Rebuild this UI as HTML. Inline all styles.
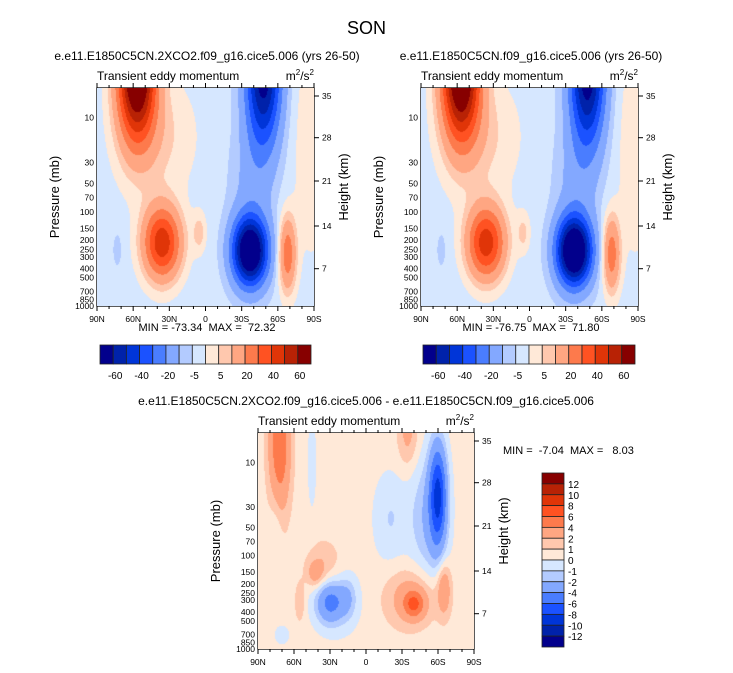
<!DOCTYPE html>
<html><head><meta charset="utf-8"><style>
body{margin:0;background:#fff;width:733px;height:673px;position:relative;overflow:hidden;font-family:"Liberation Sans",sans-serif;color:#000}
.t{position:absolute;white-space:nowrap}
canvas{position:absolute}
svg{position:absolute;left:0;top:0}
svg text{white-space:pre}
</style></head><body>
<div class="t" style="left:0;width:733px;text-align:center;top:18px;font-size:18px">SON</div>
<svg id="ov" width="733" height="673"></svg>
<script>
// Panel 1 field blobs (lat, log10 p, amplitude, lat sigma, logp sigma)
const p1Lat=[57,40,36,5,-37,-48,-38,-68,-88,73];
const p1LogP=[0.5,1.2,2.33,2.22,2.42,0.5,1.7,2.45,1.3,2.4];
const p1Amp=[85,9,50,10,-80,-65,-8,30,8,-4];
const p1SLat=[11,22,11,4,10,10,12,5,10,3];
const p1SLogP=[0.5,0.45,0.27,0.15,0.25,0.55,0.45,0.28,0.8,0.15];
const p1Base=-3;
// Panel 2 (control run)
const p2Lat=[57,40,36,5,-37,-48,-38,-68,-88,73];
const p2LogP=[0.5,1.2,2.33,2.22,2.42,0.5,1.7,2.45,1.3,2.4];
const p2Amp=[84,9,49,9,-84,-66,-8,29,8,-4];
const p2SLat=[11,22,11,4,10,10,12,5,10,3];
const p2SLogP=[0.5,0.45,0.27,0.15,0.25,0.55,0.45,0.28,0.8,0.15];
const p2Base=-3;
// Panel 3 (difference)
const p3Lat=[72,-60,-52,-20,30,-40,-38,-65,42,35,-35,15,75,55,25,45,70];
const p3LogP=[0.8,1.35,1.6,1.6,2.5,2.52,2.45,2.35,2.2,2.1,0.7,2.45,1.7,2.5,2.5,1.0,2.85];
const p3Amp=[5.5,-8,-2.5,-1.5,-4,4.5,2.5,3,2,1.5,2,-1.5,-1,1.5,-1.5,-1,-0.8];
const p3SLat=[6,5,11,10,8,6,15,4,5,10,6,5,4,3,14,3,6];
const p3SLogP=[0.5,0.38,0.5,0.35,0.15,0.1,0.22,0.2,0.1,0.18,0.25,0.15,0.4,0.15,0.25,0.4,0.1];
const p3Base=0.5;

const levA=[-60,-50,-40,-30,-20,-10,-5,0,5,10,20,30,40,50,60];
const levB=[-12,-10,-8,-6,-4,-2,-1,0,1,2,4,6,8,10,12];
const labA=["-60","-40","-20","-5","5","20","40","60"];
const labB=["12","10","8","6","4","2","1","0","-1","-2","-4","-6","-8","-10","-12"];
const cols=["#02008c","#0022aa","#0035d8","#1b52ff","#4a7dff","#83a8ff","#b3cbff","#d6e7ff","#ffe9d8","#ffc8ae","#ffa682","#fd7a4c","#ff5222","#e03508","#b82205","#870000"];
const pTicks=[10,30,50,70,100,150,200,250,300,400,500,700,850,1000];
const hTicks=["35","28","21","14","7"];
const hPos=[8,49.7,93,138,180.7];
const latTicks=["90N","60N","30N","0","30S","60S","90S"];
const LPTOP=0.684;

const ov=document.getElementById('ov');
const NS="http://www.w3.org/2000/svg";
function mk(tag,attrs,txt){const e=document.createElementNS(NS,tag);for(const k in attrs)e.setAttribute(k,attrs[k]);if(txt!==undefined)e.textContent=txt;ov.appendChild(e);return e;}
function txt(x,y,s,size,anchor,name,rot){const e=mk('text',{x:x,y:y,'font-size':size,'text-anchor':anchor||'middle','font-family':'Liberation Sans, sans-serif'},s);if(rot)e.setAttribute('transform','rotate(-90 '+x+' '+y+')');return e;}

function panel(L,T,W,H,la,lp,am,sla,slp,base,lev,id){
  const c=document.createElement('canvas');c.width=W;c.height=H;c.style.left=L+'px';c.style.top=T+'px';
  
  
  document.body.appendChild(c);
  const ctx=c.getContext('2d');const img=ctx.createImageData(W,H);
  const rgb=cols.map(h=>[parseInt(h.substr(1,2),16),parseInt(h.substr(3,2),16),parseInt(h.substr(5,2),16)]);
  for(let y=0;y<H;y++){const l=LPTOP+(y+0.5)/H*(3-LPTOP);
    for(let x=0;x<W;x++){const lat=90-180*(x+0.5)/W;let v=base;
      for(let i=0;i<la.length;i++){const a=(lat-la[i])/sla[i],b=(l-lp[i])/slp[i];v+=am[i]*Math.exp(-0.5*(a*a+b*b));}
      let k=0;while(k<lev.length&&v>=lev[k])k++;
      const o=(y*W+x)*4;img.data[o]=rgb[k][0];img.data[o+1]=rgb[k][1];img.data[o+2]=rgb[k][2];img.data[o+3]=255;}}
  ctx.putImageData(img,0,0);
  const py=p=>T+(Math.log10(p)-LPTOP)/(3-LPTOP)*H;
  const r=mk('rect',{x:L,y:T,width:W,height:H,fill:'none',stroke:'#000','stroke-width':1.3});
  
  pTicks.forEach(p=>{const y=py(p);mk('line',{x1:L,x2:L+4,y1:y,y2:y,stroke:'#000'});txt(L-3,y+3,String(p),8.5,'end',id+'-pressure-tick');});
  hTicks.forEach((h,i)=>{const y=T+hPos[i];mk('line',{x1:L+W,x2:L+W+5,y1:y,y2:y,stroke:'#000'});txt(L+W+8,y+3,h,8.5,'start',id+'-height-tick');});
  latTicks.forEach((s,i)=>{const x=L+W*i/6;mk('line',{x1:x,x2:x,y1:T+H,y2:T+H+5,stroke:'#000'});mk('line',{x1:x,x2:x,y1:T,y2:T-5,stroke:'#000'});txt(x,T+H+16,s,8.5,'middle',id+'-lat-tick');});
  for(let i=1;i<18;i++){const x=L+W*i/18;if(i%3){mk('line',{x1:x,x2:x,y1:T+H,y2:T+H+3,stroke:'#000'});mk('line',{x1:x,x2:x,y1:T,y2:T-3,stroke:'#000'});}}
  txt(L,T-8,'Transient eddy momentum',12,'start',id+'-field-name');
  const u=txt(L+W,T-8,'m',12,'end',id+'-units');u.innerHTML='m<tspan font-size="8" dy="-5">2</tspan><tspan dy="5">/s</tspan><tspan font-size="8" dy="-5">2</tspan>';
  txt(L-38,T+H/2,'Pressure (mb)',13,'middle',id+'-y-axis-title',true);
  txt(L+W+34,T+H/2-10,'Height (km)',13,'middle',id+'-y2-axis-title',true);
}
function hbar(L,T,W,H,id){const bw=W/16;
  cols.forEach((c,i)=>{const r=mk('rect',{x:L+i*bw,y:T,width:bw,height:H,fill:c,stroke:'#222','stroke-width':0.8});});
  labA.forEach((s,j)=>txt(L+bw*(2*j+1)+2,T+H+15,s,10,'middle',id+'-colorbar-label'));}

panel(97,88,217,218,p1Lat,p1LogP,p1Amp,p1SLat,p1SLogP,p1Base,levA,'panel1');
txt(207,60,'e.e11.E1850C5CN.2XCO2.f09_g16.cice5.006 (yrs 26-50)',12,'middle','panel1-title');
txt(207,331,'MIN = -73.34  MAX =  72.32',11,'middle','panel1-minmax');
hbar(100,345,211,19,'panel1');

panel(421,88,217,218,p2Lat,p2LogP,p2Amp,p2SLat,p2SLogP,p2Base,levA,'panel2');
txt(531,60,'e.e11.E1850C5CN.f09_g16.cice5.006 (yrs 26-50)',12,'middle','panel2-title');
txt(531,331,'MIN = -76.75  MAX =  71.80',11,'middle','panel2-minmax');
hbar(423,345,212,19,'panel2');

panel(258,433,216,216,p3Lat,p3LogP,p3Amp,p3SLat,p3SLogP,p3Base,levB,'panel3');
txt(366,405,'e.e11.E1850C5CN.2XCO2.f09_g16.cice5.006 - e.e11.E1850C5CN.f09_g16.cice5.006',12,'middle','panel3-title');
txt(503,454,'MIN =  -7.04  MAX =   8.03',11,'start','panel3-minmax');
{const L=542,T=473,W=22,H=174,bh=H/16;
 for(let i=0;i<16;i++){const r=mk('rect',{x:L,y:T+i*bh,width:W,height:bh,fill:cols[15-i],stroke:'#222','stroke-width':0.8});}
 labB.forEach((s,j)=>txt(L+W+4,T+bh*(j+1)+4,s,10,'start','panel3-colorbar-label'));}
</script>
</body></html>
